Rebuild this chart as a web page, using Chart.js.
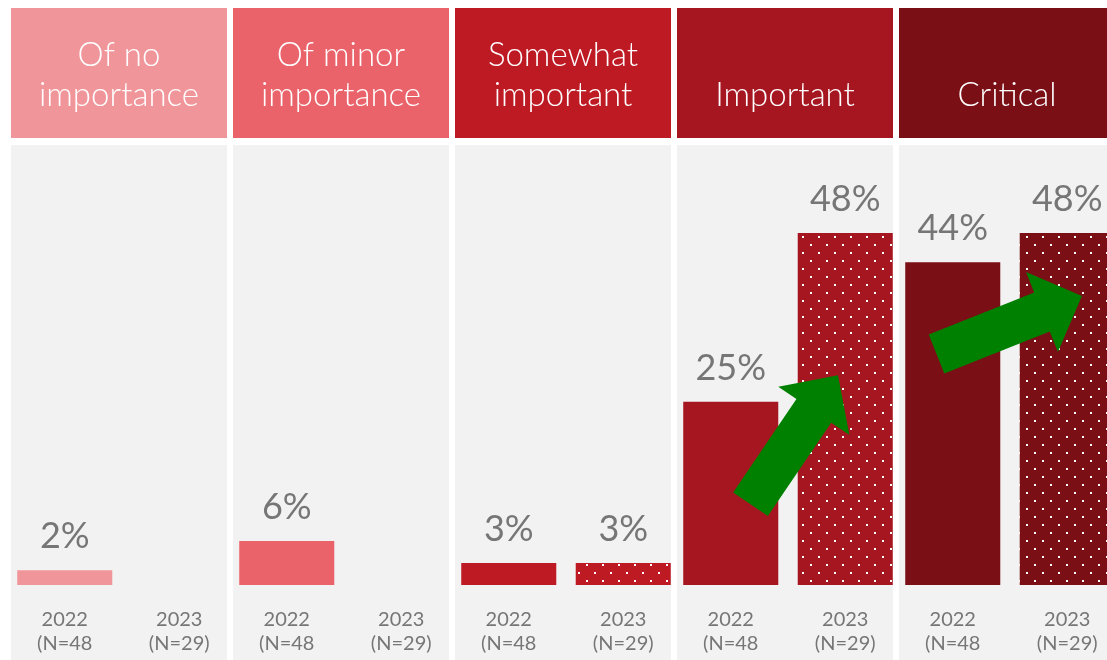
<!DOCTYPE html>
<html>
<head>
<meta charset="utf-8">
<script src="https://cdn.jsdelivr.net/npm/chart.js@4.4.1/dist/chart.umd.min.js"></script>
<style>
    html, body { margin: 0; padding: 0; background: #fff; overflow: hidden; }
    #wrap { width: 1130px; height: 660px; }
</style>
</head>
<body>
<div id="wrap"><canvas id="graph" width="1130" height="660"></canvas></div>
<script>
"use strict";
const CATEGORIES = [
    ["Of no", "importance"],
    ["Of minor", "importance"],
    ["Somewhat", "important"],
    ["Important"],
    ["Critical"],
];
const CATEGORY_COLORS = ["#F0969A", "#EA636B", "#BE1A24", "#A61620", "#7A0F16"];
const VALUES_2022 = [2, 6, 3, 25, 44];
const VALUES_2023 = [null, null, 3, 48, 48];
const SERIES_LABELS = [
    ["2022", "(N=48"],
    ["2023", "(N=29)"],
];

const TEXT_GRAY = "#767676";
const FONT = "Lato, 'Noto Sans', sans-serif";

// white dots on the bar colour, staggered rows 8px apart
function dotPattern(color) {
    const c = document.createElement("canvas");
    c.width = 16;
    c.height = 16;
    const g = c.getContext("2d");
    g.fillStyle = color;
    g.fillRect(0, 0, 16, 16);
    g.fillStyle = "#ffffff";
    g.fillRect(2, 12, 2, 2);
    g.fillRect(10, 4, 2, 2);
    return g.createPattern(c, "repeat");
}

function drawArrow(ctx, x0, y0, x1, y1, shaft, head, headLen) {
    const len = Math.hypot(x1 - x0, y1 - y0);
    const dx = (x1 - x0) / len;
    const dy = (y1 - y0) / len;
    const nx = -dy;
    const ny = dx;
    const bx = x1 - dx * headLen;
    const by = y1 - dy * headLen;
    ctx.beginPath();
    ctx.moveTo(x0 + nx * shaft / 2, y0 + ny * shaft / 2);
    ctx.lineTo(bx + nx * shaft / 2, by + ny * shaft / 2);
    ctx.lineTo(bx + nx * head / 2, by + ny * head / 2);
    ctx.lineTo(x1, y1);
    ctx.lineTo(bx - nx * head / 2, by - ny * head / 2);
    ctx.lineTo(bx - nx * shaft / 2, by - ny * shaft / 2);
    ctx.lineTo(x0 - nx * shaft / 2, y0 - ny * shaft / 2);
    ctx.closePath();
    ctx.fill();
}

// grey column backgrounds and coloured header boxes
const panelsPlugin = {
    id: "panels",
    beforeDatasetsDraw(chart) {
        const { ctx, chartArea } = chart;
        const x = chart.scales.x;
        const step = chart.chartArea.width / CATEGORIES.length;
        ctx.save();
        CATEGORIES.forEach(function (lines, i) {
            const left = x.getPixelForValue(i) - step / 2;
            const w = step - 6;
            ctx.fillStyle = "#F2F2F2";
            ctx.fillRect(left, chartArea.top, w, chart.height - chartArea.top);
            ctx.fillStyle = CATEGORY_COLORS[i];
            ctx.fillRect(left, chartArea.top - 137, w, 130);
            ctx.fillStyle = "#ffffff";
            ctx.font = "300 33px " + FONT;
            ctx.textAlign = "center";
            ctx.textBaseline = "middle";
            const cx = left + w / 2;
            lines.forEach(function (t, k) {
                const fromBottom = lines.length - 1 - k;
                ctx.fillText(t, cx, chartArea.top - 50 - fromBottom * 40);
            });
        });
        ctx.restore();
    },
    afterDatasetsDraw(chart) {
        const { ctx, chartArea } = chart;
        const x = chart.scales.x;
        const y = chart.scales.y;
        const step = chartArea.width / CATEGORIES.length;
        ctx.save();
        ctx.textAlign = "center";
        chart.data.datasets.forEach(function (ds, d) {
            const meta = chart.getDatasetMeta(d);
            meta.data.forEach(function (bar, i) {
                const v = ds.data[i];
                if (v !== null) {
                    ctx.fillStyle = TEXT_GRAY;
                    ctx.font = "36px " + FONT;
                    ctx.textBaseline = "alphabetic";
                    ctx.fillText(v + "%", bar.x, bar.y - 22);
                }
                ctx.fillStyle = TEXT_GRAY;
                ctx.font = "20px " + FONT;
                ctx.textBaseline = "middle";
                ctx.fillText(SERIES_LABELS[d][0], bar.x, chartArea.bottom + 35);
                ctx.fillText(SERIES_LABELS[d][1], bar.x, chartArea.bottom + 59);
            });
        });

        // green trend arrows from the 2022 bar towards the 2023 bar
        ctx.fillStyle = "#008000";
        const arrows = [
            { cat: 3, from: [-0.169, 11], to: [0.225, 28.6] },
            { cat: 4, from: [-0.331, 31.5], to: [0.324, 39.4] },
        ];
        arrows.forEach(function (a) {
            const c = x.getPixelForValue(a.cat);
            drawArrow(
                ctx,
                c + a.from[0] * step, y.getPixelForValue(a.from[1]),
                c + a.to[0] * step, y.getPixelForValue(a.to[1]),
                42, 86, 43
            );
        });
        ctx.restore();
    },
};

function drawGraph() {
    const data = {
        labels: CATEGORIES,
        datasets: [
            {
                label: "2022",
                data: VALUES_2022,
                backgroundColor: CATEGORY_COLORS,
            },
            {
                label: "2023",
                data: VALUES_2023,
                backgroundColor: CATEGORY_COLORS.map(dotPattern),
            },
        ],
    };
    const config = {
        type: "bar",
        data,
        options: {
            responsive: false,
            animation: false,
            layout: {
                padding: { left: 11, right: 9, top: 145, bottom: 75 },
            },
            datasets: {
                bar: {
                    categoryPercentage: 1.0315,
                    barPercentage: 0.83,
                    borderWidth: 0,
                },
            },
            plugins: {
                legend: { display: false },
                tooltip: { enabled: false },
            },
            scales: {
                x: { display: false },
                y: { display: false, min: 0, max: 60 },
            },
        },
        plugins: [panelsPlugin],
    };
    new Chart(document.getElementById("graph"), config);
}

drawGraph();
</script>
</body>
</html>
